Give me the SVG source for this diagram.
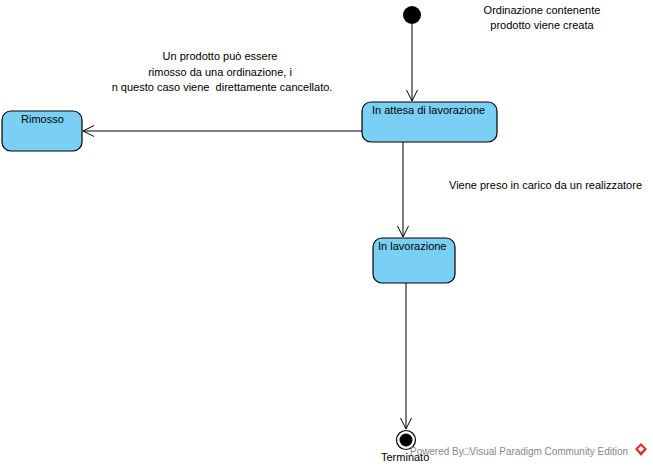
<svg xmlns="http://www.w3.org/2000/svg" width="653" height="467" viewBox="0 0 653 467">
<style>
.state{fill:#7acff5;stroke:#000;stroke-width:1.2}
.t{font-family:"Liberation Sans",Arial,sans-serif;font-size:11px;fill:#000;white-space:pre}
.c{text-anchor:middle}
.edge{stroke:#000;stroke-width:1;fill:none}
.wm{font-family:"Liberation Sans",Arial,sans-serif;font-size:11px;fill:#888}
</style>
<defs>
<marker id="arr" markerWidth="12" markerHeight="12" refX="11" refY="6" orient="auto" markerUnits="userSpaceOnUse">
<path d="M0,0.5 L11,6 L0,11.5" fill="none" stroke="#000" stroke-width="1"/>
</marker>
</defs>
<rect width="653" height="467" fill="#fff"/>
<g id="connectors">
<line class="edge" x1="412" y1="24" x2="412" y2="101" marker-end="url(#arr)"/>
<line class="edge" x1="362" y1="131" x2="83" y2="131" marker-end="url(#arr)"/>
<line class="edge" x1="403" y1="142" x2="403" y2="237" marker-end="url(#arr)"/>
<line class="edge" x1="406" y1="283" x2="406" y2="429" marker-end="url(#arr)"/>
</g>
<g id="initial"><circle cx="412" cy="15" r="9" fill="#000"/></g>
<g id="attesa">
<rect class="state" x="362" y="102" width="135" height="40" rx="9"/>
<text class="t" x="372" y="114">In attesa di lavorazione</text>
</g>
<g id="rimosso">
<rect class="state" x="2" y="111" width="80" height="40" rx="9"/>
<text class="t" x="21" y="123">Rimosso</text>
</g>
<g id="lavorazione">
<rect class="state" x="373" y="238" width="82" height="45" rx="9"/>
<text class="t" x="378" y="250">In lavorazione</text>
</g>
<g id="final">
<circle cx="406" cy="440" r="9.5" fill="#fff" stroke="#000" stroke-width="1.2"/>
<circle cx="406" cy="440" r="6.5" fill="#000"/>
<text class="t" x="381" y="461">Terminato</text>
</g>
<g id="notes">
<text class="t c" x="542" y="14">Ordinazione contenente</text>
<text class="t c" x="542" y="29">prodotto viene creata</text>
<text class="t c" x="220" y="60">Un prodotto può essere</text>
<text class="t c" x="220" y="76">rimosso da una ordinazione, i</text>
<text class="t c" x="222" y="91" xml:space="preserve">n questo caso viene  direttamente cancellato.</text>
<text class="t" x="449" y="189">Viene preso in carico da un realizzatore</text>
</g>
<g id="watermark">
<text class="wm" x="410" y="455" textLength="218" lengthAdjust="spacingAndGlyphs">Powered By□Visual Paradigm Community Edition</text>
<path d="M641,443 L647,449 L641,456 L635,449 Z" fill="#d9342b"/>
<path d="M641,446 L644,449 L641,452 L638,449 Z" fill="#fff"/>
</g>
</svg>
